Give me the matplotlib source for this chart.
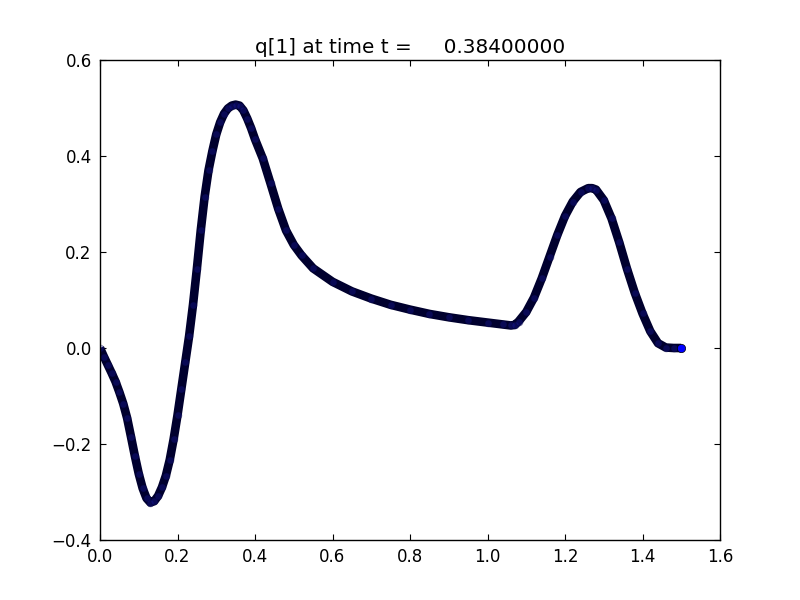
import matplotlib
matplotlib.use("Agg")
import matplotlib.pyplot as plt

x = [0.0, 0.01, 0.02, 0.03, 0.04, 0.05, 0.06, 0.07, 0.08, 0.09,
     0.10, 0.11, 0.12, 0.13, 0.14, 0.15, 0.16, 0.17, 0.18, 0.19,
     0.20, 0.21, 0.22, 0.23, 0.24, 0.25, 0.26, 0.27, 0.28, 0.29,
     0.30, 0.31, 0.32, 0.33, 0.34, 0.35, 0.36, 0.37, 0.38, 0.39,
     0.40, 0.42, 0.44, 0.46, 0.48, 0.50, 0.52, 0.55, 0.60, 0.65,
     0.70, 0.75, 0.80, 0.85, 0.90, 0.95, 1.00, 1.04, 1.06, 1.07,
     1.08, 1.10, 1.12, 1.14, 1.16, 1.18, 1.20, 1.22, 1.24, 1.26,
     1.27, 1.28, 1.30, 1.32, 1.34, 1.36, 1.38, 1.40, 1.42, 1.44,
     1.46, 1.48, 1.50]
q1 = [0.0, -0.018, -0.035, -0.052, -0.07, -0.092, -0.116, -0.146, -0.185, -0.225,
      -0.262, -0.292, -0.313, -0.322, -0.319, -0.308, -0.29, -0.266, -0.233, -0.19,
      -0.14, -0.085, -0.03, 0.025, 0.09, 0.165, 0.245, 0.315, 0.37, 0.41,
      0.445, 0.47, 0.488, 0.499, 0.505, 0.507, 0.505, 0.495, 0.478, 0.458,
      0.435, 0.395, 0.343, 0.29, 0.245, 0.215, 0.193, 0.166, 0.138, 0.118,
      0.103, 0.09, 0.08, 0.071, 0.064, 0.058, 0.053, 0.049, 0.047, 0.048,
      0.055, 0.075, 0.105, 0.145, 0.19, 0.235, 0.275, 0.305, 0.325, 0.333,
      0.333, 0.33, 0.308, 0.27, 0.22, 0.165, 0.115, 0.072, 0.035, 0.01,
      0.001, 0.0, 0.0]
title = "q[1] at time t =     0.38400000"

fig = plt.figure(figsize=(8, 6), dpi=100)
ax = fig.add_axes([0.125, 0.1, 0.775, 0.8])
ax.plot(x, q1, '-', color='#00002e', lw=6.2, solid_capstyle='butt',
        solid_joinstyle='round', zorder=2)
ax.plot(x[:-1], q1[:-1], 'o', mfc='#1a1aa0', mec='#00002e', mew=0.5, ms=5,
        alpha=0.35, zorder=2.5)
ax.plot(x[-1:], q1[-1:], 'o', mfc='blue', mec='black', mew=0.5, ms=6, zorder=3)
ax.set_xlim(0, 1.6)
ax.set_ylim(-0.4, 0.6)
ax.set_xticks([0.0, 0.2, 0.4, 0.6, 0.8, 1.0, 1.2, 1.4, 1.6])
ax.set_yticks([-0.4, -0.2, 0.0, 0.2, 0.4, 0.6])
ax.tick_params(direction='in', top=True, right=True, labelsize=12, length=4,
               width=0.8, pad=6)
for s in ax.spines.values():
    s.set_linewidth(1.0)
ax.set_title(title, fontsize=14.4, pad=5)
fig.savefig("out.png", dpi=100)
